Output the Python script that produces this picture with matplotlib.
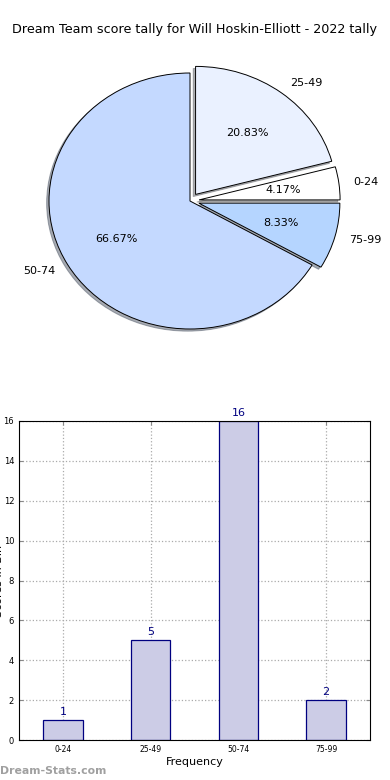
import numpy as np
import matplotlib
matplotlib.use("Agg")
import matplotlib.pyplot as plt

# ------------------ data ------------------
bins = ['0-24', '25-49', '50-74', '75-99']
counts = [1, 5, 16, 2]
pie_colors = ['#ffffff', '#eaf1ff', '#c4d9ff', '#b5d5ff']
explode = [0.065, 0.065, 0.0, 0.065]

fig = plt.figure(figsize=(3.9, 7.8), dpi=100)
fig.text(0.5, 1 - 30 / 780, 'Dream Team score tally for Will Hoskin-Elliott - 2022 tally',
         ha='center', va='center', fontsize=9.2)

# ------------------ pie (drawn as ellipse like the original) ------------------
rx, ry = 141.0, 128.0
cx, cy = 190.0, 780 - 201.0
lim = 1.3
ax1 = fig.add_axes([(cx - lim * rx) / 390, (cy - lim * ry) / 780,
                    2 * lim * rx / 390, 2 * lim * ry / 780])
ax1.pie(counts, labels=bins, colors=pie_colors, explode=explode,
        autopct='%1.2f%%', shadow=dict(ox=-0.012, oy=-0.012, shade=0.6),
        startangle=0,
        wedgeprops=dict(edgecolor='black', linewidth=0.7),
        textprops=dict(fontsize=8))
ax1.set_aspect('auto')
ax1.set_xlim(-lim, lim)
ax1.set_ylim(-lim, lim)
ax1.axis('off')

# ------------------ bar chart ------------------
ax2 = fig.add_axes([19 / 390, 40 / 780, 351 / 390, 319 / 780])
x = np.arange(len(bins))
ax2.bar(x, counts, width=0.45, color='#cccce6', edgecolor='#000080',
        linewidth=0.9, zorder=2)
for xi, c in zip(x, counts):
    ax2.text(xi, c + 0.15, str(c), ha='center', va='bottom', color='#000080',
             fontsize=8, clip_on=False)
ax2.set_xlim(-0.5, 3.5)
ax2.set_ylim(0, 16)
ax2.set_xticks(x)
ax2.set_xticklabels(bins, fontsize=5.5)
ax2.set_yticks(range(0, 17, 2))
ax2.tick_params(axis='y', labelsize=6)
ax2.tick_params(direction='in', top=True, right=True, length=3, color='#888888')
ax2.grid(True, linestyle=':', color='#aaaaaa', linewidth=0.9, zorder=0)
ax2.set_axisbelow(True)
ax2.set_xlabel('Frequency', fontsize=8, labelpad=2)
ax2.set_ylabel('Scores in Bin', fontsize=8)
ax2.yaxis.set_label_coords(-0.043, 0.5)

fig.text(0.0, 9 / 780, 'Dream-Stats.com', fontsize=7.8, color='#a0a0a0',
         fontweight='bold', ha='left', va='center')

fig.savefig('out.png', dpi=100)
